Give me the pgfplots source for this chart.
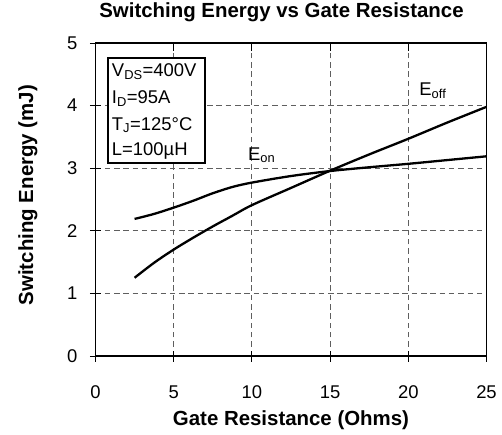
\documentclass[border=0pt]{standalone}
\usepackage{pgfplots}
\pgfplotsset{compat=1.18}
\usepackage{fontspec}
\setmainfont{Liberation Sans}
\definecolor{gridgray}{RGB}{95,95,95}
\begin{document}
\begin{tikzpicture}
\begin{axis}[name=ax, scale only axis, width=391bp, height=313bp,
  xmin=0, xmax=25, ymin=0, ymax=5,
  xtick={0,5,10,15,20,25}, ytick={0,1,2,3,4,5},
  grid=major,
  major grid style={gridgray, line width=1.1bp, dash pattern=on 5.5bp off 3.8bp},
  axis line style={line width=1.6bp},
  tick style={black, line width=0.9bp},
  tick align=center, major tick length=11bp,
  tick pos=left,
  ticklabel style={font=\fontsize{18.5}{22}\selectfont},
  /pgf/number format/assume math mode=true,
  yticklabel style={xshift=-9bp},
  xticklabel style={yshift=-21bp},
  title={Switching Energy vs Gate Resistance},
  every axis title/.style={font=\bfseries\fontsize{20.5}{24}\selectfont, at={(axis description cs:0.4757,1.0799)}, anchor=base, inner sep=0pt},
  xlabel={Gate Resistance (Ohms)},
  xlabel style={font=\bfseries\fontsize{20.5}{24}\selectfont, at={(axis description cs:0.5,-0.2236)}, anchor=base, inner sep=0pt},
  ylabel={Switching Energy (mJ)},
  ylabel style={font=\bfseries\fontsize{20.5}{24}\selectfont, at={(axis description cs:-0.1598,0.514)}, anchor=base, inner sep=0pt},
]
\addplot[black, line width=2.3bp, smooth, no marks] coordinates {
  (2.5,2.19) (3.75,2.27) (5,2.37) (6.25,2.48) (7.5,2.60) (8.75,2.70) (10,2.77) (12.5,2.875) (15,2.955) (17.5,3.015) (20,3.07) (22.5,3.13) (25,3.19)
};
\addplot[black, line width=2.3bp, smooth, no marks] coordinates {
  (2.5,1.25) (3.75,1.49) (5,1.70) (6.25,1.89) (7.5,2.07) (8.75,2.24) (10,2.41) (12.5,2.685) (15,2.96) (17.5,3.22) (20,3.47) (22.5,3.73) (25,3.98)
};
\draw[line width=1.7bp, fill=white] (axis cs:0.82,3.088) rectangle (axis cs:7.0,4.765);
\node[anchor=base west, inner sep=0pt, font=\fontsize{18.5}{22}\selectfont] at (axis cs:1.04,4.462) {V\textsubscript{DS}=400V};
\node[anchor=base west, inner sep=0pt, font=\fontsize{18.5}{22}\selectfont] at (axis cs:1.04,4.037) {I\textsubscript{D}=95A};
\node[anchor=base west, inner sep=0pt, font=\fontsize{18.5}{22}\selectfont] at (axis cs:1.04,3.610) {T\textsubscript{J}=125°C};
\node[anchor=base west, inner sep=0pt, font=\fontsize{18.5}{22}\selectfont] at (axis cs:1.04,3.195) {L=100µH};
\node[anchor=base west, inner sep=0pt, font=\fontsize{18.5}{22}\selectfont] at (axis cs:9.75,3.13) {E\textsubscript{on}};
\node[anchor=base west, inner sep=0pt, font=\fontsize{18.5}{22}\selectfont] at (axis cs:20.7,4.16) {E\textsubscript{off}};
\draw[line width=0.9bp] (axis cs:5,5) -- (axis cs:5,4.87);
\draw[line width=0.9bp] (axis cs:10,5) -- (axis cs:10,4.87);
\draw[line width=0.9bp] (axis cs:15,5) -- (axis cs:15,4.87);
\draw[line width=0.9bp] (axis cs:20,5) -- (axis cs:20,4.87);
\end{axis}
\path ([shift={(-95.5bp,-79bp)}]ax.south west) rectangle ([shift={(15.5bp,43bp)}]ax.north east);
\end{tikzpicture}
\end{document}
